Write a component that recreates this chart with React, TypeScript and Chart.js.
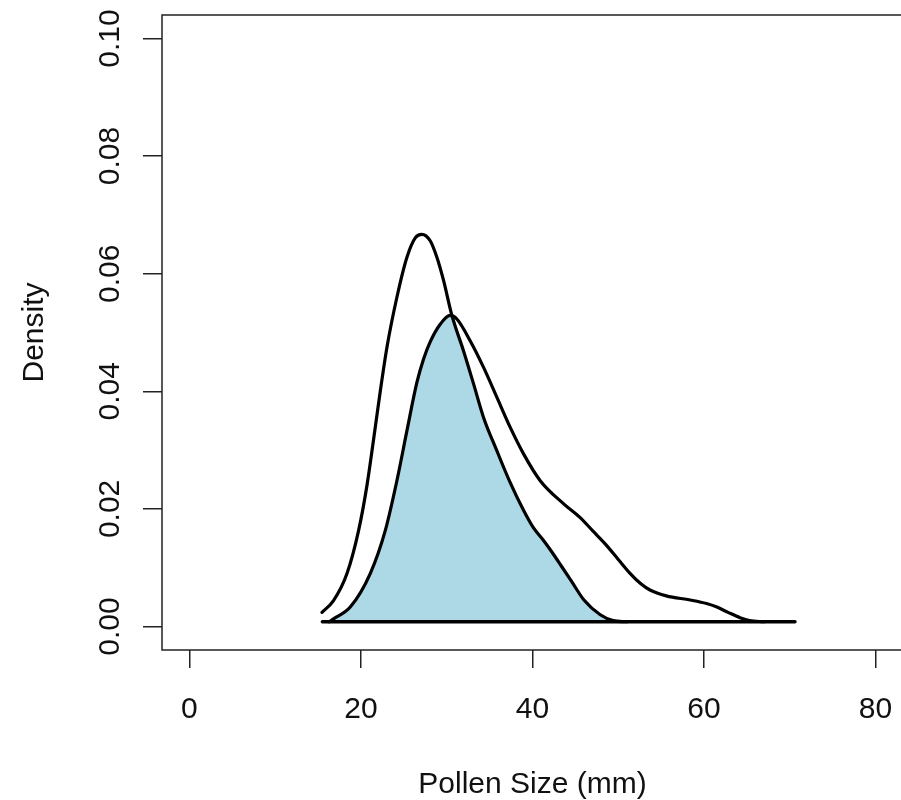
import React, { useEffect, useRef } from "react";
import { Chart, registerables } from "chart.js";

Chart.register(...registerables);

// ---- data ----
const xTicks = [0, 20, 40, 60, 80];
const xTickLabels = ["0", "20", "40", "60", "80"];
const yTicks = [0, 0.02, 0.04, 0.06, 0.08, 0.1];
const yTickLabels = ["0.00", "0.02", "0.04", "0.06", "0.08", "0.10"];
const xTitle = "Pollen Size (mm)";
const yTitle = "Density";

// taller, narrower density curve
const curveAx = [15.45, 16.8, 18.37, 19.72, 20.7, 21.47, 22.25, 23.03, 24.19, 25.36, 26.33, 27.1, 28.07, 28.85, 29.62, 30.6, 31.95, 33.12, 34.28, 35.84, 37.39, 38.94, 40.1, 41.2, 42.2, 43.4, 44.5, 46.0, 47.9, 49.4, 51.0];
const curveAy = [0.0024, 0.0044, 0.009, 0.0163, 0.024, 0.0318, 0.04, 0.0475, 0.056, 0.0628, 0.0661, 0.0667, 0.0656, 0.0628, 0.0589, 0.0529, 0.0469, 0.0413, 0.0356, 0.0299, 0.0245, 0.0198, 0.0168, 0.0148, 0.0128, 0.0102, 0.0078, 0.0045, 0.002, 0.001, 0.0008];

// lower, wider density curve with long right tail
const curveBx = [16.3, 16.8, 18.75, 21.08, 22.83, 24.19, 25.36, 26.52, 27.3, 28.07, 29.24, 30.4, 31.18, 32.73, 34.28, 35.84, 37.39, 38.94, 40.9, 43.6, 45.5, 47.0, 48.5, 50.0, 51.4, 52.6, 53.7, 55.6, 58.4, 60.3, 61.5, 62.8, 64.2, 65.3, 67.0];
const curveBy = [0.0008, 0.0013, 0.0033, 0.009, 0.0163, 0.0248, 0.0333, 0.0415, 0.0455, 0.0484, 0.0514, 0.0529, 0.0523, 0.0486, 0.0441, 0.039, 0.0339, 0.0294, 0.0248, 0.0209, 0.0186, 0.0163, 0.014, 0.0114, 0.009, 0.0073, 0.0062, 0.0052, 0.0045, 0.0039, 0.0033, 0.0024, 0.0015, 0.001, 0.0008];

// horizontal base line under the curves
const baseX = [15.5, 70.6];
const baseY = [0.0008, 0.0008];
const fillBase = 0.0008;
const crossX = 30.5;

const FONT = "'Liberation Sans', Arial, Helvetica, sans-serif";
const INK = "#111111";

const CANVAS_W = 920;
const CANVAS_H = 800;

export default function App() {
  const ref = useRef<HTMLCanvasElement | null>(null);

  useEffect(() => {
    const canvas = ref.current;
    if (!canvas) return;

    const ptsA = curveAx.map((x, i) => ({ x, y: curveAy[i] }));
    const ptsB = curveBx.map((x, i) => ({ x, y: curveBy[i] }));
    const overlap = [
      ...ptsB.filter((p) => p.x <= crossX),
      ...ptsA.filter((p) => p.x > crossX),
    ];
    const base = baseX.map((x, i) => ({ x, y: baseY[i] }));

    const rAxes = {
      id: "rAxes",
      afterDraw(chart: any) {
        const { ctx, chartArea } = chart;
        const xs = chart.scales.x;
        const ys = chart.scales.y;
        ctx.save();
        // box
        ctx.strokeStyle = "#222";
        ctx.lineWidth = 1.5;
        ctx.strokeRect(chartArea.left, chartArea.top, chartArea.right - chartArea.left, chartArea.bottom - chartArea.top);
        ctx.fillStyle = INK;
        ctx.font = `30px ${FONT}`;
        // x tick labels
        ctx.textAlign = "center";
        ctx.textBaseline = "alphabetic";
        xTicks.forEach((v, i) => {
          ctx.fillText(xTickLabels[i], xs.getPixelForValue(v), 718);
        });
        // x title
        ctx.fillText(xTitle, (chartArea.left + chartArea.right) / 2, 793);
        // y tick labels (rotated)
        yTicks.forEach((v, i) => {
          ctx.save();
          ctx.translate(119, ys.getPixelForValue(v));
          ctx.rotate(-Math.PI / 2);
          ctx.textAlign = "center";
          ctx.fillText(yTickLabels[i], 0, 0);
          ctx.restore();
        });
        // y title
        ctx.save();
        ctx.translate(43, (chartArea.top + chartArea.bottom) / 2);
        ctx.rotate(-Math.PI / 2);
        ctx.textAlign = "center";
        ctx.fillText(yTitle, 0, 0);
        ctx.restore();
        ctx.restore();
      },
    };

    const lineCommon = {
      pointRadius: 0,
      borderColor: "#000",
      borderWidth: 3.2,
      fill: false,
      cubicInterpolationMode: "monotone" as const,
      borderCapStyle: "round" as const,
      borderJoinStyle: "round" as const,
    };

    const chart = new Chart(canvas, {
      type: "line",
      data: {
        datasets: [
          { ...lineCommon, label: "A", data: ptsA, order: 1 },
          { ...lineCommon, label: "B", data: ptsB, order: 1 },
          { ...lineCommon, label: "base", data: base, borderWidth: 3.5, cubicInterpolationMode: "default", tension: 0, order: 1 },
          {
            label: "overlap",
            data: overlap,
            pointRadius: 0,
            borderWidth: 0,
            borderColor: "rgba(0,0,0,0)",
            backgroundColor: "#ADD8E6",
            fill: { value: fillBase },
            cubicInterpolationMode: "monotone",
            order: 5,
          } as any,
        ],
      },
      options: {
        animation: false,
        responsive: false,
        devicePixelRatio: 1,
        layout: { padding: { top: 15, right: CANVAS_W - 903, left: 0, bottom: 0 } },
        plugins: { legend: { display: false }, tooltip: { enabled: false } },
        events: [],
        scales: {
          x: {
            type: "linear",
            min: -3.2,
            max: 83.2,
            afterBuildTicks: (s: any) => {
              s.ticks = xTicks.map((v) => ({ value: v }));
            },
            afterFit: (s: any) => {
              s.height = 150;
            },
            grid: { drawOnChartArea: false, drawTicks: true, tickLength: 18, color: "#222", lineWidth: 1.5 },
            border: { display: false },
            ticks: { display: false },
          },
          y: {
            type: "linear",
            min: -0.004,
            max: 0.104,
            afterBuildTicks: (s: any) => {
              s.ticks = yTicks.map((v) => ({ value: v }));
            },
            afterFit: (s: any) => {
              s.width = 162;
            },
            grid: { drawOnChartArea: false, drawTicks: true, tickLength: 19, color: "#222", lineWidth: 1.5 },
            border: { display: false },
            ticks: { display: false },
          },
        },
      },
      plugins: [rAxes],
    });

    return () => chart.destroy();
  }, []);

  return (
    <div style={{ position: "fixed", left: 0, top: 0, width: 901, height: 800, overflow: "hidden", background: "#fff" }}>
      <canvas ref={ref} width={CANVAS_W} height={CANVAS_H} style={{ width: CANVAS_W, height: CANVAS_H, display: "block" }} />
    </div>
  );
}
